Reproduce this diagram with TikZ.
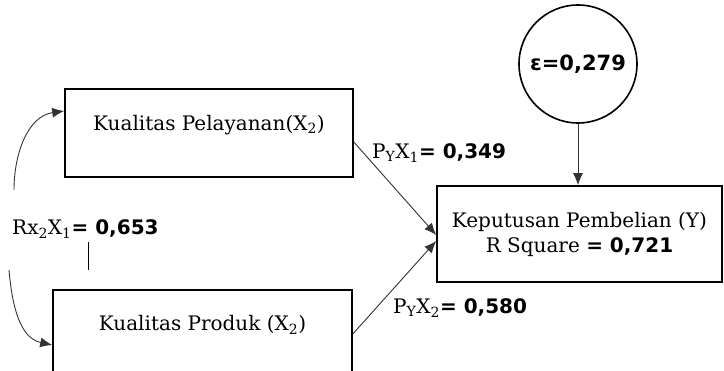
\documentclass[tikz,border=0pt]{standalone}
\usepackage{fontspec}
\setmainfont{DejaVu Serif}
\newfontfamily\valfont{DejaVu Sans}
\usetikzlibrary{arrows.meta}
% bold sans values
\newcommand\val[1]{{\valfont\bfseries #1}}

\tikzset{
  varbox/.style={draw=black, line width=1.6pt, inner sep=0pt,
    minimum width=#1},
  boxtext/.style={inner sep=0pt, font=\fontsize{20}{25}\selectfont, align=center},
  coef/.style={inner sep=0pt, anchor=west, font=\fontsize{20}{24}\selectfont},
  path/.style={draw=black!80, line width=0.9pt,
    -{Latex[length=12pt,width=10pt]}},
  errnode/.style={draw=black, line width=1.6pt, circle, inner sep=0pt,
    minimum size=118pt, font=\valfont\bfseries\fontsize{21}{24}\selectfont}
}

\begin{document}
\begin{tikzpicture}[x=1pt,y=-1pt]
\useasboundingbox (0,0) rectangle (724,371);
\clip (0,0) rectangle (724,371);

% exogenous and endogenous variables
\node[varbox=288pt, minimum height=88pt] (b1) at (209,133) {};
\node[boxtext] (t1) at (209,125) {Kualitas Pelayanan(X\textsubscript{2})};

\node[varbox=299pt, minimum height=88pt] (b2) at (202.5,334) {};
\node[boxtext] (t2) at (202.5,325) {Kualitas Produk (X\textsubscript{2})};

\node[varbox=285pt, minimum height=96pt] (y) at (579.5,234) {};
\node[boxtext] (ty) at (579.5,234.5)
  {Keputusan Pembelian (Y)\\R Square \val{= 0,721}};

% residual
\node[errnode] (eps) at (578,64) {ε=0,279};

% paths
\draw[path] ([yshift=-9pt]b1.east) -- ([yshift=-1pt]y.west);
\draw[path] (b2.east) -- ([yshift=-7pt]y.west);
\draw[path] (eps.south) -- (eps.south |- y.north);

% correlation between X1 and X2
\coordinate (ctop) at (14,190);
\coordinate (cbot) at (9,270);
\draw[path] (ctop) to[out=90,in=188] ([yshift=22pt]b1.west);
\draw[path] (cbot) to[out=-85,in=168] ([yshift=-11pt]b2.west);
\coordinate (tickA) at (88,242);
\coordinate (tickB) at (88,270);
\draw[black, line width=0.9pt] (tickA) -- (tickB);

% coefficients
\node[coef] (r12) at (12,229) {Rx\textsubscript{2}X\textsubscript{1}\val{= 0,653}};
\node[coef] (p1) at (372,153) {P\textsubscript{Y}X\textsubscript{1}\val{= 0,349}};
\node[coef] (p2) at (393,308) {P\textsubscript{Y}X\textsubscript{2}\val{= 0,580}};
\end{tikzpicture}
\end{document}
